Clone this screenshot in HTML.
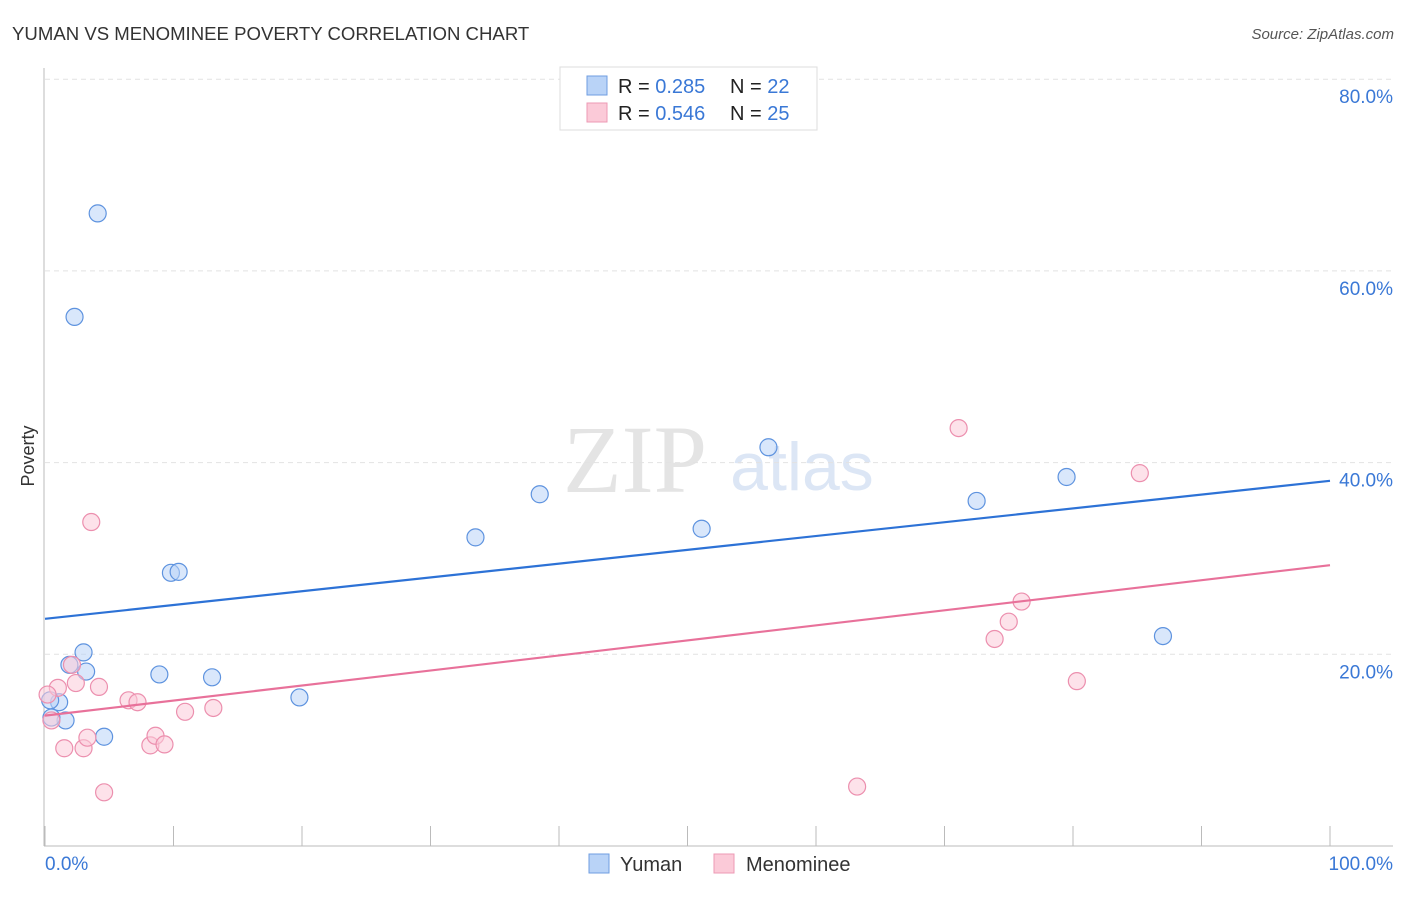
<!DOCTYPE html>
<html><head><meta charset="utf-8"><style>
body{margin:0;background:#fff;font-family:"Liberation Sans",sans-serif}
</style></head><body>
<svg id="c" width="1406" height="892" xmlns="http://www.w3.org/2000/svg" style="font-family:'Liberation Sans',sans-serif">
<text x="12" y="40" font-size="18.6" fill="#333">YUMAN VS MENOMINEE POVERTY CORRELATION CHART</text>
<text x="1394" y="39" font-size="15" fill="#555" font-style="italic" text-anchor="end">Source: ZipAtlas.com</text>
<text x="635" y="492" font-size="96" fill="#e4e4e4" font-family="Liberation Serif" text-anchor="middle">ZIP</text>
<text x="802" y="490" font-size="68" fill="#dce6f5" text-anchor="middle">atlas</text>
<text x="34" y="456" font-size="18" fill="#333" transform="rotate(-90 34 456)" text-anchor="middle">Poverty</text>
<g id="grid"></g><g id="marks"></g>
<g>
<rect x="560" y="67" width="257" height="63" fill="#fff" stroke="#ddd"/>
<rect x="587" y="76" width="20" height="19" fill="#b9d3f7" stroke="#6f9ee0"/>
<rect x="587" y="103" width="20" height="19" fill="#fbcad8" stroke="#ec9ab4"/>
<text x="618" y="93" font-size="20" fill="#222">R = <tspan fill="#3a78d6">0.285</tspan><tspan x="730">N = </tspan><tspan fill="#3a78d6">22</tspan></text>
<text x="618" y="120" font-size="20" fill="#222">R = <tspan fill="#3a78d6">0.546</tspan><tspan x="730">N = </tspan><tspan fill="#3a78d6">25</tspan></text>
</g>
<g>
<rect x="589" y="854" width="20" height="19" fill="#b9d3f7" stroke="#6f9ee0"/>
<text x="620" y="871" font-size="20" fill="#333">Yuman</text>
<rect x="714" y="854" width="20" height="19" fill="#fbcad8" stroke="#ec9ab4"/>
<text x="746" y="871" font-size="20" fill="#333">Menominee</text>
</g>
<text x="45" y="870" font-size="19" fill="#3a78d6">0.0%</text>
<text x="1393" y="870" font-size="19" fill="#3a78d6" text-anchor="end">100.0%</text>
</svg>
<script>
const yTicks=[20,40,60,80];
const yumanX=[4.1,2.3,3.0,1.9,3.2,1.1,1.6,0.5,4.6,8.9,13.0,9.8,10.4,19.8,33.5,38.5,51.1,56.3,72.5,79.5,87.0,0.4];
const yumanY=[66.0,55.2,20.2,18.9,18.2,15.0,13.1,13.4,11.4,17.9,17.6,28.5,28.6,15.5,32.2,36.7,33.1,41.6,36.0,38.5,21.9,15.2];
const menX=[3.6,2.1,1.0,2.4,4.2,6.5,7.2,10.9,13.1,1.5,3.0,3.3,8.2,8.6,9.3,4.6,0.5,0.2,63.2,71.1,73.9,75.0,76.0,80.3,85.2];
const menY=[33.8,18.9,16.5,17.0,16.6,15.2,15.0,14.0,14.4,10.2,10.2,11.3,10.5,11.5,10.6,5.6,13.1,15.8,6.2,43.6,21.6,23.4,25.5,17.2,38.9];
const yumanTrend=[23.7,38.1];
const menTrend=[13.6,29.3];
const NS='http://www.w3.org/2000/svg';
const X=v=>45+v*12.85, Y=v=>846-v*9.585;
function mk(t,a,p){const e=document.createElementNS(NS,t);for(const k in a)e.setAttribute(k,a[k]);p.appendChild(e);return e;}
const g=document.getElementById('grid'), m=document.getElementById('marks');
yTicks.forEach(t=>{
 const l=mk('line',{x1:45,x2:1393,y1:Y(t),y2:Y(t),stroke:'#e2e2e2','stroke-dasharray':'5,4'},g);
 
 
 const tx=mk('text',{x:1393,y:Y(t)+24,'font-size':19,fill:'#3a78d6','text-anchor':'end'},g);
 tx.textContent=t.toFixed(1)+'%';
 
 
});
let ax=mk('line',{x1:44,x2:44,y1:68,y2:846,stroke:'#bbb'},g);


ax=mk('line',{x1:44,x2:1393,y1:846,y2:846,stroke:'#bbb'},g);


for(let i=0;i<=10;i++){const t=mk('line',{x1:X(i*10),x2:X(i*10),y1:826,y2:846,stroke:'#bbb'},g);
 
 }
function pts(xs,ys,fill,stroke,name){xs.forEach((x,i)=>{const c=mk('circle',{cx:X(x),cy:Y(ys[i]),r:8.5,fill:fill,'fill-opacity':0.55,stroke:stroke,'stroke-width':1.2},m);
 
 });}
pts(yumanX,yumanY,'#b9d3f7','#5e93df','yuman');
pts(menX,menY,'#fbcad8','#ec8fae','menominee');
let tl=mk('line',{x1:X(0),x2:X(100),y1:Y(yumanTrend[0]),y2:Y(yumanTrend[1]),stroke:'#2d72d6','stroke-width':2.2},m);


tl=mk('line',{x1:X(0),x2:X(100),y1:Y(menTrend[0]),y2:Y(menTrend[1]),stroke:'#e8719a','stroke-width':2.2},m);


</script>
</body></html>
